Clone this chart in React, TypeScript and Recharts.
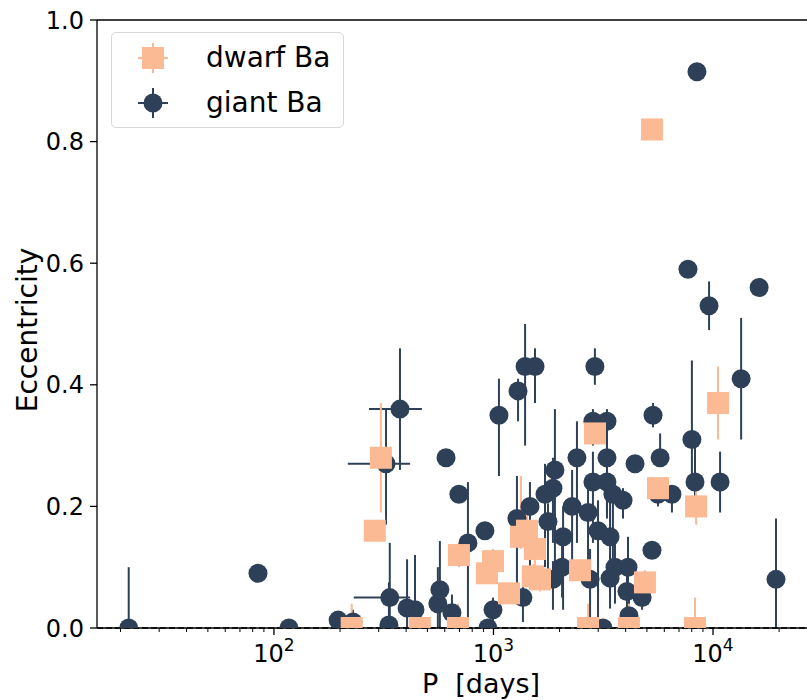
import { ScatterChart, Scatter, XAxis, YAxis, ErrorBar, ReferenceLine } from "recharts"

const NAVY = "#2e4057"
const PEACH = "#fcba94"

// giant Ba stars: period (days), eccentricity and its errors
const giantP = [21.8, 84.6, 117, 196, 229, 337, 324, 375, 334, 404, 439, 570, 558, 647, 608, 696, 765, 914, 943, 995, 1059, 1294, 1393, 1546, 2897, 2838, 3288, 1905, 2400, 3288, 1866, 1717, 1466, 1279, 2281, 2838, 2696, 1771, 2075, 2994, 3396, 2053, 1866, 3396, 2754, 1362, 3155, 9594, 5330, 8014, 8279, 10770, 5742, 4413, 6500, 5614, 3500, 3891, 5272, 3576, 4100, 4055, 4753, 4142, 19360, 13430, 8450, 7690, 16220, 3288]
const giantE = [0.0, 0.09, 0.0, 0.013, 0.01, 0.05, 0.27, 0.36, 0.005, 0.033, 0.03, 0.063, 0.04, 0.025, 0.28, 0.22, 0.14, 0.16, 0.0, 0.03, 0.35, 0.39, 0.43, 0.43, 0.43, 0.34, 0.34, 0.26, 0.28, 0.28, 0.23, 0.22, 0.2, 0.18, 0.2, 0.24, 0.19, 0.175, 0.15, 0.16, 0.15, 0.1, 0.08, 0.082, 0.08, 0.05, 0.0, 0.53, 0.35, 0.31, 0.24, 0.24, 0.28, 0.27, 0.22, 0.22, 0.22, 0.21, 0.128, 0.1, 0.1, 0.06, 0.05, 0.02, 0.08, 0.41, 0.915, 0.59, 0.56, 0.24]
const giantELo = [0, 0, 0, 0, 0.01, 0.05, 0.1, 0.1, 0.005, 0.033, 0.03, 0.063, 0.04, 0.025, 0, 0.01, 0.14, 0, 0, 0.03, 0.1, 0.05, 0.13, 0.06, 0.03, 0.04, 0.04, 0.16, 0.14, 0.1, 0.09, 0.12, 0.1, 0.14, 0.12, 0.1, 0.09, 0.09, 0.12, 0.16, 0.1, 0.05, 0.05, 0.05, 0.08, 0.04, 0, 0.04, 0.02, 0.07, 0.05, 0.05, 0, 0.01, 0.03, 0.02, 0.14, 0.03, 0, 0.06, 0.04, 0.03, 0.02, 0.02, 0.08, 0.1, 0, 0.005, 0, 0.05]
const giantEHi = [0.1, 0, 0, 0, 0.02, 0.09, 0.09, 0.1, 0.07, 0.08, 0.09, 0.08, 0.06, 0.03, 0, 0.01, 0.1, 0, 0, 0.02, 0.06, 0.02, 0.07, 0.03, 0.03, 0.02, 0.02, 0.1, 0.06, 0.05, 0.05, 0.05, 0.04, 0.07, 0.06, 0.05, 0.06, 0.03, 0.05, 0.05, 0.06, 0.04, 0.03, 0.04, 0.05, 0.05, 0, 0.04, 0.02, 0.13, 0.07, 0.05, 0.04, 0.01, 0, 0.02, 0.02, 0.02, 0, 0.04, 0.05, 0.03, 0.02, 0.04, 0.1, 0.1, 0, 0.01, 0, 0.06]
const giantPLo = [0, 0, 0, 0, 0, 106, 107, 104, 0, 0, 0, 0, 0, 0, 0, 0, 0, 0, 0, 0, 0, 0, 0, 0, 0, 0, 0, 0, 0, 0, 0, 0, 0, 0, 0, 0, 0, 0, 0, 0, 0, 0, 0, 0, 0, 0, 0, 0, 0, 0, 0, 0, 0, 0, 0, 0, 0, 0, 0, 0, 0, 0, 0, 0, 0, 0, 0, 0, 0, 0]
const giantPHi = [0, 0, 0, 0, 0, 80, 93, 97, 0, 0, 0, 0, 0, 0, 0, 0, 0, 0, 0, 0, 0, 0, 0, 0, 0, 0, 0, 0, 0, 0, 0, 0, 0, 0, 0, 0, 0, 0, 0, 0, 0, 0, 0, 0, 0, 0, 0, 0, 0, 0, 0, 0, 0, 0, 0, 0, 0, 0, 0, 0, 0, 0, 0, 0, 0, 0, 0, 0, 0, 0]

// dwarf Ba stars
const dwarfP = [226, 288, 307, 462, 689, 696, 995, 934, 1177, 1334, 1421, 1545, 1513, 1629, 2478, 2696, 2900, 4898, 4142, 5614, 5272, 8375, 8279, 10540]
const dwarfE = [0.0, 0.16, 0.28, 0.0, 0.0, 0.12, 0.11, 0.09, 0.057, 0.15, 0.16, 0.13, 0.085, 0.08, 0.095, 0.0, 0.32, 0.075, 0.0, 0.23, 0.82, 0.2, 0.0, 0.37]
const dwarfELo = [0, 0, 0.09, 0, 0, 0.02, 0.02, 0.01, 0.01, 0.02, 0.02, 0.03, 0.02, 0.02, 0.01, 0, 0.01, 0.02, 0, 0.01, 0, 0.03, 0, 0.06]
const dwarfEHi = [0.04, 0, 0.09, 0.04, 0.04, 0.02, 0.02, 0.01, 0.01, 0.1, 0.03, 0.03, 0.02, 0.02, 0.01, 0.04, 0.01, 0.02, 0.04, 0.01, 0, 0.03, 0.05, 0.06]

const yTicks = [0, 0.2, 0.4, 0.6, 0.8, 1.0]
const majorTicks = [100, 1000, 10000]
const minorTicks = [20, 30, 40, 50, 60, 70, 80, 90, 200, 300, 400, 500, 600, 700, 800, 900, 2000, 3000, 4000, 5000, 6000, 7000, 8000, 9000, 20000]
const xTicks = [...minorTicks, ...majorTicks].sort((a, b) => a - b)

const giantData = giantP.map((p, i) => ({
  p,
  e: giantE[i],
  ey: [giantELo[i], giantEHi[i]],
  ex: [giantPLo[i], giantPHi[i]],
}))
const dwarfData = dwarfP.map((p, i) => ({ p, e: dwarfE[i], ey: [dwarfELo[i], dwarfEHi[i]] }))

const FONT = "DejaVu Sans"

const GiantDot = (props: any) => <circle cx={props.cx} cy={props.cy} r={9.5} fill={NAVY} />
const DwarfSquare = (props: any) => (
  <rect x={props.cx - 11} y={props.cy - 11} width={22} height={22} fill={PEACH} />
)

const XTick = (props: any) => {
  const { x, y, payload } = props
  const v = payload.value
  const major = majorTicks.includes(v)
  const exp = Math.round(Math.log10(v))
  return (
    <g>
      <line x1={x} x2={x} y1={y} y2={y + (major ? 7 : 4)} stroke="black" strokeWidth={major ? 1.3 : 1} />
      {major && (
        <text x={x} y={y + 34} textAnchor="middle" fontSize={24} fontFamily={FONT} fill="black">
          10
          <tspan dy={-11} fontSize={17}>{exp}</tspan>
        </text>
      )}
    </g>
  )
}

const LegendBox = () => (
  <div
    style={{
      position: "absolute",
      left: 111,
      top: 32,
      width: 233,
      height: 96,
      boxSizing: "border-box",
      border: "1px solid #d8d8d8",
      borderRadius: 5,
      background: "rgba(255,255,255,0.8)",
      fontFamily: FONT,
      fontSize: 28,
      color: "black",
    }}
  >
    <svg width={40} height={40} style={{ position: "absolute", left: 21, top: 5 }}>
      <line x1={5} x2={35} y1={20} y2={20} stroke={PEACH} strokeWidth={2} />
      <line x1={20} x2={20} y1={5} y2={35} stroke={PEACH} strokeWidth={2} />
      <rect x={9} y={9} width={22} height={22} fill={PEACH} />
    </svg>
    <div style={{ position: "absolute", left: 94, top: 5, lineHeight: "40px" }}>dwarf Ba</div>
    <svg width={40} height={40} style={{ position: "absolute", left: 21, top: 50 }}>
      <line x1={5} x2={35} y1={20} y2={20} stroke={NAVY} strokeWidth={2} />
      <line x1={20} x2={20} y1={5} y2={35} stroke={NAVY} strokeWidth={2} />
      <circle cx={20} cy={20} r={9.5} fill={NAVY} />
    </svg>
    <div style={{ position: "absolute", left: 94, top: 50, lineHeight: "40px" }}>giant Ba</div>
  </div>
)

export default function App() {
  return (
    <div style={{ position: "absolute", left: 0, top: 0, width: 807, height: 700, overflow: "hidden", background: "white" }}>
      <ScatterChart width={807} height={700} margin={{ top: 20, right: 0, bottom: 0, left: 0 }}>
        <XAxis
          type="number"
          dataKey="p"
          scale="log"
          domain={[15.63, 26800]}
          allowDataOverflow
          ticks={xTicks}
          interval={0}
          tick={<XTick />}
          tickLine={false}
          tickSize={0}
          tickMargin={0}
          height={72}
          stroke="black"
          strokeWidth={1.3}
          label={{
            position: "center",
            content: (lp: any) => (
              <text
                x={lp.viewBox.x + 384}
                y={lp.viewBox.y + 65}
                textAnchor="middle"
                fontSize={27}
                fontFamily={FONT}
                fill="black"
                style={{ whiteSpace: "pre" }}
              >
                {"P  [days]"}
              </text>
            ),
          }}
        />
        <YAxis
          type="number"
          dataKey="e"
          domain={[0, 1]}
          allowDataOverflow
          ticks={yTicks}
          tickFormatter={(v: number) => v.toFixed(1)}
          width={97}
          tickSize={7}
          tickMargin={6}
          stroke="black"
          strokeWidth={1.3}
          tick={{ fontSize: 24, fill: "black", fontFamily: FONT }}
          label={{
            position: "center",
            content: (lp: any) => {
              const cx = lp.viewBox.x + 27
              const cy = lp.viewBox.y + lp.viewBox.height / 2 + 6
              return (
                <text
                  x={cx}
                  y={cy}
                  transform={`rotate(-90 ${cx} ${cy})`}
                  textAnchor="middle"
                  dominantBaseline="central"
                  fontSize={28}
                  fontFamily={FONT}
                  fill="black"
                >
                  Eccentricity
                </text>
              )
            },
          }}
        />
        <ReferenceLine y={1} stroke="black" strokeWidth={1.3} />
        <ReferenceLine y={0} stroke="black" strokeWidth={1.3} strokeDasharray="6 3" />
        <Scatter name="giant Ba" data={giantData} fill={NAVY} shape={<GiantDot />} isAnimationActive={false}>
          <ErrorBar dataKey="ey" direction="y" width={0} stroke={NAVY} strokeWidth={2} />
          <ErrorBar dataKey="ex" direction="x" width={0} stroke={NAVY} strokeWidth={2} />
        </Scatter>
        <Scatter name="dwarf Ba" data={dwarfData} fill={PEACH} shape={<DwarfSquare />} isAnimationActive={false}>
          <ErrorBar dataKey="ey" direction="y" width={0} stroke={PEACH} strokeWidth={2} />
        </Scatter>
      </ScatterChart>
      <LegendBox />
    </div>
  )
}
